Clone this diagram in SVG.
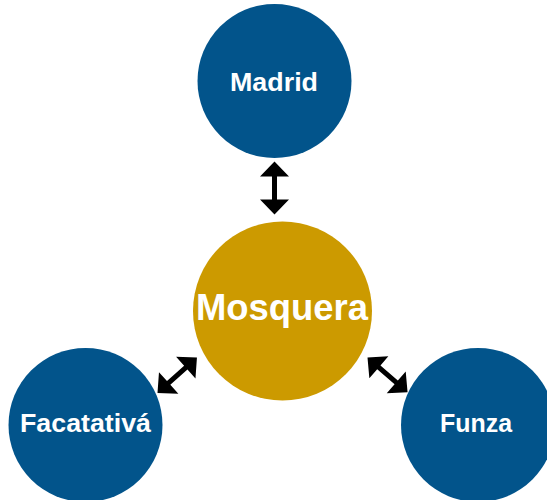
<svg xmlns="http://www.w3.org/2000/svg" width="547" height="500" viewBox="0 0 547 500">
<defs>
<style>
.blue{fill:#02548b}
.gold{fill:#cc9a00}
.lbl{font-family:"Liberation Sans",Arial,sans-serif;font-weight:bold;fill:#ffffff;text-anchor:middle}
.arrow{fill:#000000}
</style>
<path id="dbl" d="M0,0 L15,-14.5 L15,-2.5 L38,-2.5 L38,-14.5 L53,0 L38,14.5 L38,2.5 L15,2.5 L15,14.5 Z"/>
</defs>
<rect width="547" height="500" fill="#ffffff"/>
<g id="connectors" class="arrow">
<use href="#dbl" transform="translate(274.5,161.5) rotate(90)"/>
<use href="#dbl" transform="translate(157.5,393) rotate(-41.9)"/>
<use href="#dbl" transform="translate(367.5,357.5) rotate(40.9)"/>
</g>
<g id="madrid">
<circle class="blue" cx="274.5" cy="81" r="77"/>
<text class="lbl" x="274" y="90.5" font-size="26" textLength="88" lengthAdjust="spacingAndGlyphs">Madrid</text>
</g>
<g id="mosquera">
<circle class="gold" cx="282.5" cy="311" r="89.5"/>
<text class="lbl" x="282" y="320" font-size="36" textLength="172" lengthAdjust="spacingAndGlyphs">Mosquera</text>
</g>
<g id="facatativa">
<circle class="blue" cx="85.5" cy="425" r="77"/>
<text class="lbl" x="85.5" y="431.5" font-size="26" textLength="131" lengthAdjust="spacingAndGlyphs">Facatativá</text>
</g>
<g id="funza">
<circle class="blue" cx="478" cy="425" r="77"/>
<text class="lbl" x="476" y="431.5" font-size="26" textLength="72" lengthAdjust="spacingAndGlyphs">Funza</text>
</g>
</svg>
